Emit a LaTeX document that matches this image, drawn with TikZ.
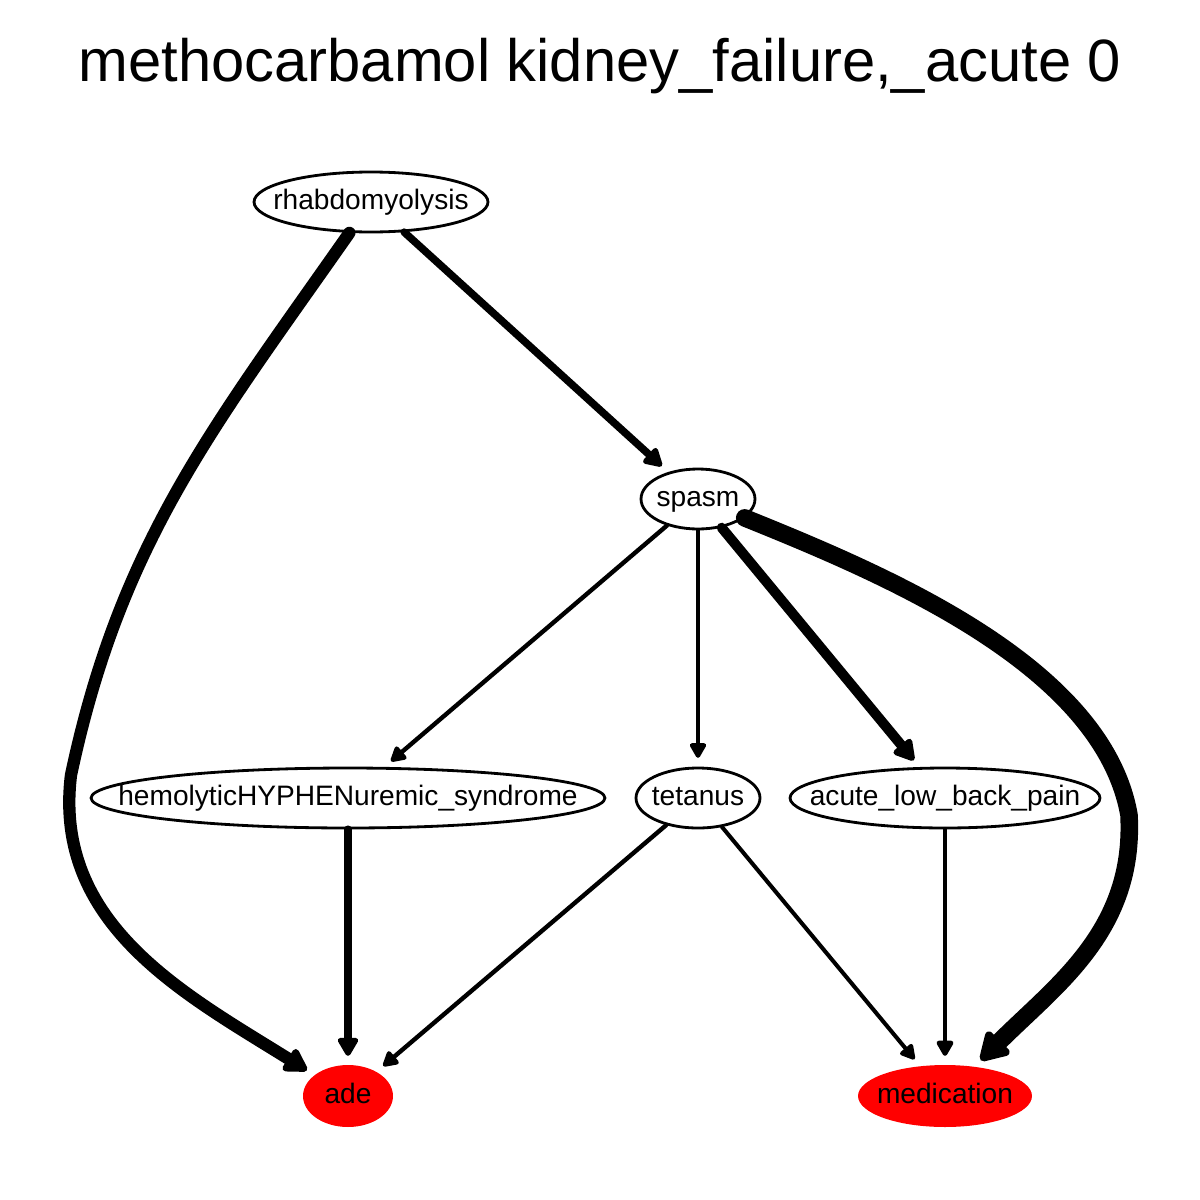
\documentclass[tikz,border=0pt]{standalone}
\usepackage{fontspec}
\setmainfont{Liberation Sans}
\usetikzlibrary{arrows.meta,shapes.geometric}

\newcommand{\nlabel}[1]{\makebox[0pt]{#1}}

\begin{document}
\begin{tikzpicture}[
  x=0.02cm, y=0.02cm,
  font=\fontsize{16}{19}\selectfont,
  vnode/.style={
    ellipse, draw, line width=1.6pt, inner sep=0pt,
    minimum height=1.2cm, text height=8.5pt, text depth=0pt
  },
  outnode/.style={
    ellipse, draw=none, fill=red, inner sep=0pt,
    minimum height=1.24cm, text height=8.5pt, text depth=0pt
  },
  flow/.style={
    line width=#1, line cap=round, line join=round,
    -{Triangle[round,length=7pt 1.1,width=7pt 1.3]},
    shorten >=5pt
  }
]
\useasboundingbox (0,0) rectangle (1200,-1200);

% title
\node[font=\fontsize{34}{40}\selectfont, anchor=base] (title) at (600,-81)
  {methocarbamol kidney\_failure,\_acute 0};

% nodes
\node[vnode, minimum width=4.68cm] (rhab) at (371,-202) {\nlabel{rhabdomyolysis}};
\node[vnode, minimum width=2.28cm] (spasm) at (698,-499) {\nlabel{spasm}};
\node[vnode, minimum width=10.28cm] (hemo) at (348,-798) {\nlabel{hemolyticHYPHENuremic\_syndrome}};
\node[vnode, minimum width=2.48cm] (tetanus) at (698,-798) {\nlabel{tetanus}};
\node[vnode, minimum width=6.2cm] (lbp) at (945,-798) {\nlabel{acute\_low\_back\_pain}};
\node[outnode, minimum width=1.8cm] (ade) at (348,-1096) {\nlabel{ade}};
\node[outnode, minimum width=3.48cm] (medication) at (945,-1096) {\nlabel{medication}};

\coordinate (bendL) at (71,-775);
\coordinate (bendR) at (1129,-815);

% edges
\draw[flow=7pt] (rhab) to[out=235,in=78] (bendL) to[out=263,in=148] (ade);
\draw[flow=4.3pt] (rhab) -- (spasm);
\draw[flow=2.5pt] (spasm) -- (hemo);
\draw[flow=2.5pt] (spasm) -- (tetanus);
\draw[flow=5.7pt] (spasm) -- (lbp);
\draw[flow=10pt] (spasm) to[out=-22,in=100,looseness=0.8] (bendR) to[out=273,in=45] (medication);
\draw[flow=4.5pt] (hemo) -- (ade);
\draw[flow=2.5pt] (tetanus) -- (ade);
\draw[flow=2.3pt] (tetanus) -- (medication);
\draw[flow=2.8pt] (lbp) -- (medication);

\end{tikzpicture}
\end{document}
